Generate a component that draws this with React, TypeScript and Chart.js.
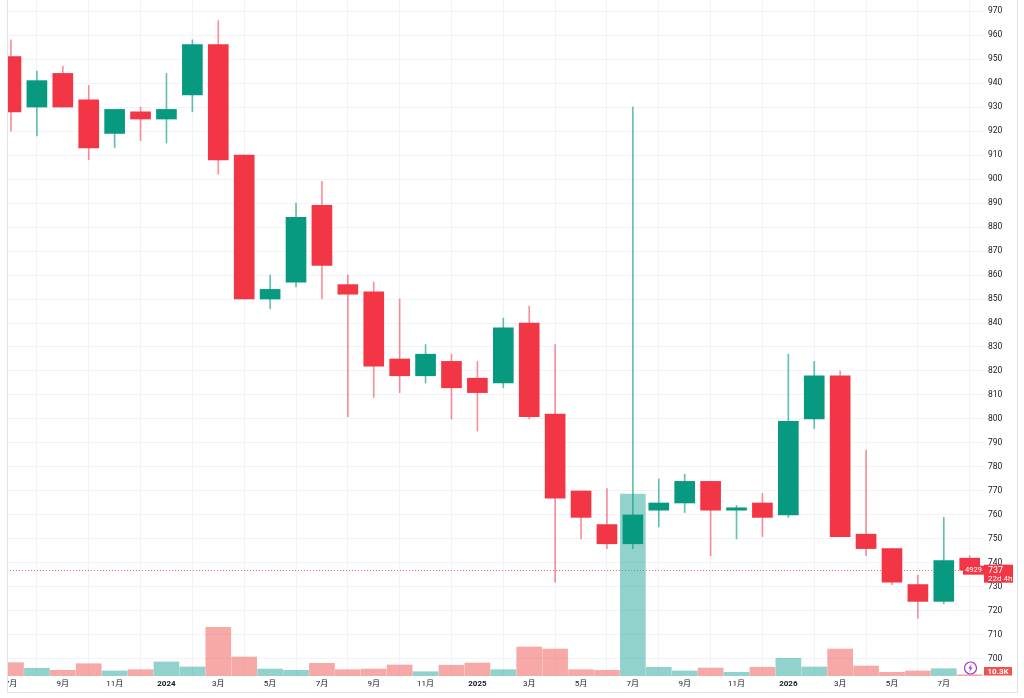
import React, { useEffect, useRef } from 'react';
import { Chart, registerables } from 'chart.js';

Chart.register(...registerables);

// monthly candles, Jul 2023 .. Aug 2026
const months = [
  '2023-07', '2023-08', '2023-09', '2023-10', '2023-11', '2023-12',
  '2024-01', '2024-02', '2024-03', '2024-04', '2024-05', '2024-06',
  '2024-07', '2024-08', '2024-09', '2024-10', '2024-11', '2024-12',
  '2025-01', '2025-02', '2025-03', '2025-04', '2025-05', '2025-06',
  '2025-07', '2025-08', '2025-09', '2025-10', '2025-11', '2025-12',
  '2026-01', '2026-02', '2026-03', '2026-04', '2026-05', '2026-06',
  '2026-07', '2026-08',
];
const opens = [
  951, 930, 944, 933, 919, 928, 925, 935, 956, 910, 850, 857,
  889, 856, 853, 825, 818, 824, 817, 815, 840, 802, 770, 756,
  748, 762, 765, 774, 762, 765, 760, 800, 818, 752, 746, 731,
  724, 742,
];
const highs = [
  958, 945, 947, 939, 929, 930, 944, 958, 966, 910, 860, 890,
  899, 860, 857, 850, 831, 827, 824, 842, 847, 831, 770, 771,
  930, 775, 777, 774, 764, 769, 827, 824, 820, 787, 746, 735,
  759, 743,
];
const lows = [
  920, 918, 930, 908, 913, 916, 915, 928, 902, 850, 846, 855,
  850, 801, 809, 811, 815, 800, 795, 813, 800, 732, 750, 746,
  746, 755, 761, 743, 750, 751, 759, 796, 751, 743, 731, 717,
  723, 737,
];
const closes = [
  928, 941, 930, 913, 929, 925, 929, 956, 908, 850, 854, 884,
  864, 852, 822, 818, 827, 813, 811, 838, 801, 767, 759, 748,
  760, 765, 774, 762, 763, 759, 799, 818, 751, 746, 732, 724,
  741, 737,
];
// volume in thousands
const volumes = [
  105, 61, 45, 97, 40, 50, 111, 71, 385, 150, 55, 45,
  100, 50, 55, 87, 34, 85, 103, 50, 229, 213, 50, 45,
  1438, 69, 40, 63, 29, 69, 140, 71, 213, 79, 29, 40,
  58, 10.3,
];
const priceTicks = [
  700, 710, 720, 730, 740, 750, 760, 770, 780, 790, 800, 810, 820, 830,
  840, 850, 860, 870, 880, 890, 900, 910, 920, 930, 940, 950, 960, 970,
];
const lastPrice = 737;
const lastVolumeText = '10.3K';
const countdownText = '22d 4h';
const markerText = '4929';

const UP = '#089981';
const DOWN = '#F23645';
const WICK_UP = 'rgba(8, 153, 129, 0.62)';
const WICK_DOWN = 'rgba(242, 54, 69, 0.55)';
const VOL_UP = 'rgba(38, 166, 154, 0.5)';
const VOL_DOWN = 'rgba(239, 83, 80, 0.5)';
const GRID = '#f0f3fa';
const TEXT = '#131722';
const FONT = "Roboto, 'Noto Sans CJK SC', sans-serif";

const monthLabel = (m: string) => {
  const [y, mm] = m.split('-');
  return mm === '01' ? y : `${parseInt(mm, 10)}月`;
};

const overlayPlugin = {
  id: 'overlay',
  beforeDatasetsDraw(chart: any) {
    const { ctx, chartArea, scales } = chart;
    const py = Math.round(scales.y.getPixelForValue(lastPrice)) + 0.5;
    ctx.save();
    ctx.strokeStyle = 'rgba(242, 54, 69, 0.7)';
    ctx.lineWidth = 1;
    ctx.setLineDash([1, 2]);
    ctx.beginPath();
    ctx.moveTo(chartArea.left, py);
    ctx.lineTo(chartArea.right, py);
    ctx.stroke();
    ctx.restore();
  },
  afterDraw(chart: any) {
    const { ctx, chartArea, scales } = chart;
    const py = scales.y.getPixelForValue(lastPrice);
    const right = chartArea.right;
    ctx.save();

    // marker label left of the price axis
    ctx.fillStyle = DOWN;
    ctx.fillRect(right - 22, py - 4.5, 21, 9);
    ctx.fillStyle = '#fff';
    ctx.font = `7.5px ${FONT}`;
    ctx.textAlign = 'center';
    ctx.textBaseline = 'middle';
    ctx.fillText(markerText, right - 11.5, py + 0.3);

    // last price + countdown
    ctx.fillStyle = DOWN;
    ctx.fillRect(right - 1, py - 5.5, 29, 18);
    ctx.fillStyle = '#fff';
    ctx.textAlign = 'left';
    ctx.font = `9px ${FONT}`;
    ctx.fillText(String(lastPrice), right + 3, py + 0.3);
    ctx.font = `8px ${FONT}`;
    ctx.fillText(countdownText, right + 3, py + 8.8);

    // last volume
    const vb = scales.vol.getPixelForValue(0);
    ctx.fillStyle = '#EF5350';
    ctx.fillRect(right - 1, vb - 9, 28, 8.5);
    ctx.fillStyle = '#fff';
    ctx.font = `bold 8px ${FONT}`;
    ctx.textAlign = 'center';
    ctx.fillText(lastVolumeText, right + 13, vb - 4.5);

    // lightning badge
    const cx = right - 14.5;
    const cy = vb - 8;
    ctx.strokeStyle = '#A23BC8';
    ctx.lineWidth = 1.2;
    ctx.beginPath();
    ctx.arc(cx, cy, 6, 0, Math.PI * 2);
    ctx.stroke();
    ctx.fillStyle = '#A23BC8';
    ctx.beginPath();
    ctx.moveTo(cx + 1.2, cy - 4);
    ctx.lineTo(cx - 2.2, cy + 0.6);
    ctx.lineTo(cx - 0.1, cy + 0.6);
    ctx.lineTo(cx - 1.2, cy + 4);
    ctx.lineTo(cx + 2.2, cy - 0.6);
    ctx.lineTo(cx + 0.1, cy - 0.6);
    ctx.closePath();
    ctx.fill();

    ctx.restore();
  },
};

const CandleChart: React.FC = () => {
  const canvasRef = useRef<HTMLCanvasElement | null>(null);
  const chartInstance = useRef<Chart | null>(null);

  useEffect(() => {
    document.body.style.margin = '0';
    if (!canvasRef.current) return;
    if (chartInstance.current) chartInstance.current.destroy();

    const idx = months.map((_, i) => i);
    const up = idx.map((i) => closes[i] >= opens[i]);
    const tickIdx = idx.filter((i) => parseInt(months[i].slice(5), 10) % 2 === 1);

    chartInstance.current = new Chart(canvasRef.current, {
      type: 'bar',
      data: {
        datasets: [
          {
            label: 'body',
            data: idx.map((i) => ({ x: i, y: [opens[i], closes[i]] })) as any,
            backgroundColor: up.map((u) => (u ? UP : DOWN)),
            borderWidth: 0,
            borderSkipped: false,
            barThickness: 20,
            grouped: false,
            yAxisID: 'y',
            order: 1,
          },
          {
            label: 'wick',
            data: idx.map((i) => ({ x: i, y: [lows[i], highs[i]] })) as any,
            backgroundColor: up.map((u) => (u ? WICK_UP : WICK_DOWN)),
            borderWidth: 0,
            barThickness: 1,
            grouped: false,
            yAxisID: 'y',
            order: 2,
          },
          {
            label: 'volume',
            data: idx.map((i) => ({ x: i, y: volumes[i] })) as any,
            backgroundColor: up.map((u) => (u ? VOL_UP : VOL_DOWN)),
            borderWidth: 0,
            barThickness: 25,
            grouped: false,
            yAxisID: 'vol',
            order: 3,
          },
        ],
      },
      options: {
        responsive: false,
        animation: false,
        devicePixelRatio: 1,
        layout: { padding: { left: 7, right: 6, top: 0, bottom: 5 } },
        plugins: {
          legend: { display: false },
          tooltip: { enabled: false },
        },
        scales: {
          x: {
            type: 'linear',
            min: -0.154,
            max: 37.59,
            offset: false,
            grid: { color: GRID, drawTicks: false },
            border: { display: false },
            ticks: {
              color: TEXT,
              padding: 3,
              maxRotation: 0,
              autoSkip: false,
              font: (c: any) => ({
                family: FONT,
                size: 8,
                weight: months[c.tick?.value]?.endsWith('-01') ? 'bold' : 'normal',
              }),
              callback: (v: any) => monthLabel(months[v as number] ?? ''),
            },
            afterBuildTicks: (s: any) => {
              s.ticks = tickIdx.map((v) => ({ value: v }));
            },
            afterFit: (s: any) => {
              s.height = 17;
              s.paddingLeft = 0;
              s.paddingRight = 0;
            },
          },
          y: {
            position: 'right',
            min: 692.9,
            max: 974.6,
            grid: { color: GRID, drawTicks: false },
            border: { display: false },
            ticks: {
              color: TEXT,
              padding: 3,
              font: { family: FONT, size: 8.5 },
            },
            afterBuildTicks: (s: any) => {
              s.ticks = priceTicks.map((v) => ({ value: v }));
            },
            afterFit: (s: any) => {
              s.width = 33;
              s.paddingTop = 0;
              s.paddingBottom = 0;
            },
          },
          vol: {
            display: false,
            min: 0,
            max: 5340,
          },
        },
      } as any,
      plugins: [overlayPlugin],
    });

    return () => {
      if (chartInstance.current) {
        chartInstance.current.destroy();
        chartInstance.current = null;
      }
    };
  }, []);

  return (
    <div style={{ position: 'fixed', left: 0, top: 0, width: 1024, height: 698, background: '#fff' }}>
      <canvas ref={canvasRef} width={1024} height={698} style={{ width: 1024, height: 698, display: 'block' }} />
      <div style={{ position: 'absolute', left: 0, top: 0, width: 7, height: 698, background: '#fff' }} />
      <div
        style={{
          position: 'absolute',
          left: 7,
          top: -1,
          width: 1011,
          height: 694,
          border: '1px solid #e0e3eb',
          boxSizing: 'border-box',
          pointerEvents: 'none',
        }}
      />
    </div>
  );
};

export default function App() {
  return <CandleChart />;
}
